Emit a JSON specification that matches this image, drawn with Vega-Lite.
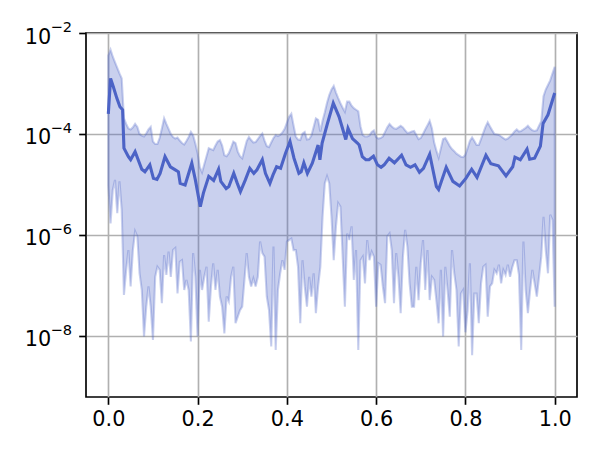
{
"$schema": "https://vega.github.io/schema/vega-lite/v6.json",
"autosize": "none",
"width": 491,
"height": 364,
"padding": {"left": 86, "top": 33, "right": 23, "bottom": 53},
"background": "white",
"config": {
  "view": {"stroke": "black", "strokeWidth": 1.67},
  "axis": {"grid": true, "gridColor": "#b0b0b0", "gridWidth": 1.67, "domain": false, "tickColor": "black", "tickSize": 7.3, "tickWidth": 1.67, "labelFont": "DejaVu Sans", "labelFontSize": 20.8, "labelColor": "black", "labelPadding": 5, "title": null}
},
"datasets": {
"band": [
{"x":0.000,"lo":9.77e-6,"hi":3.55e-3},{"x":0.005,"lo":1.70e-6,"hi":4.68e-3},{"x":0.010,"lo":7.76e-6,"hi":3.39e-3},{"x":0.015,"lo":1.23e-5,"hi":2.63e-3},{"x":0.020,"lo":2.69e-6,"hi":2.04e-3},{"x":0.025,"lo":1.15e-5,"hi":1.58e-3},{"x":0.030,"lo":3.16e-6,"hi":1.26e-3},{"x":0.035,"lo":6.46e-8,"hi":2.04e-4},{"x":0.040,"lo":2.04e-7,"hi":1.58e-4},{"x":0.045,"lo":5.01e-7,"hi":1.29e-4},
{"x":0.050,"lo":9.55e-8,"hi":1.23e-4},{"x":0.055,"lo":5.01e-7,"hi":1.35e-4},{"x":0.060,"lo":1.18e-6,"hi":1.58e-4},{"x":0.065,"lo":9.33e-7,"hi":1.38e-4},{"x":0.070,"lo":1.74e-7,"hi":1.00e-4},{"x":0.075,"lo":8.13e-8,"hi":9.33e-5},{"x":0.080,"lo":9.77e-9,"hi":8.91e-5},{"x":0.085,"lo":3.80e-8,"hi":1.02e-4},{"x":0.090,"lo":9.55e-8,"hi":1.23e-4},{"x":0.095,"lo":3.80e-8,"hi":1.38e-4},
{"x":0.100,"lo":8.32e-9,"hi":7.08e-5},{"x":0.105,"lo":1.48e-7,"hi":6.31e-5},{"x":0.110,"lo":2.34e-7,"hi":6.31e-5},{"x":0.115,"lo":2.04e-7,"hi":8.32e-5},{"x":0.120,"lo":4.47e-8,"hi":1.29e-4},{"x":0.125,"lo":3.98e-7,"hi":2.04e-4},{"x":0.130,"lo":1.62e-7,"hi":1.58e-4},{"x":0.135,"lo":4.68e-7,"hi":1.26e-4},{"x":0.140,"lo":1.48e-7,"hi":1.00e-4},{"x":0.145,"lo":5.01e-7,"hi":8.71e-5},
{"x":0.150,"lo":5.50e-7,"hi":8.13e-5},{"x":0.155,"lo":6.92e-8,"hi":8.51e-5},{"x":0.160,"lo":2.95e-7,"hi":7.41e-5},{"x":0.165,"lo":3.16e-7,"hi":6.61e-5},{"x":0.170,"lo":8.13e-8,"hi":6.17e-5},{"x":0.175,"lo":1.29e-7,"hi":7.24e-5},{"x":0.180,"lo":8.13e-8,"hi":8.71e-5},{"x":0.185,"lo":7.76e-9,"hi":1.10e-4},{"x":0.190,"lo":4.37e-7,"hi":9.33e-5},{"x":0.195,"lo":1.48e-7,"hi":6.46e-5},
{"x":0.200,"lo":9.77e-9,"hi":4.17e-5},{"x":0.205,"lo":2.04e-7,"hi":2.19e-5},{"x":0.210,"lo":8.13e-8,"hi":1.74e-5},{"x":0.215,"lo":1.48e-7,"hi":2.51e-5},{"x":0.220,"lo":2.34e-7,"hi":3.63e-5},{"x":0.225,"lo":1.91e-8,"hi":5.25e-5},{"x":0.230,"lo":9.55e-8,"hi":5.01e-5},{"x":0.235,"lo":2.75e-7,"hi":4.79e-5},{"x":0.240,"lo":8.13e-8,"hi":5.89e-5},{"x":0.245,"lo":2.04e-7,"hi":7.08e-5},
{"x":0.250,"lo":6.03e-8,"hi":7.59e-5},{"x":0.255,"lo":3.80e-8,"hi":5.89e-5},{"x":0.260,"lo":1.12e-8,"hi":3.80e-5},{"x":0.265,"lo":6.03e-8,"hi":3.63e-5},{"x":0.270,"lo":4.79e-8,"hi":4.17e-5},{"x":0.275,"lo":1.48e-7,"hi":5.37e-5},{"x":0.280,"lo":2.34e-7,"hi":7.08e-5},{"x":0.285,"lo":1.78e-8,"hi":6.61e-5},{"x":0.290,"lo":2.40e-8,"hi":4.47e-5},{"x":0.295,"lo":3.24e-8,"hi":3.63e-5},
{"x":0.300,"lo":3.80e-8,"hi":3.31e-5},{"x":0.305,"lo":1.29e-7,"hi":4.90e-5},{"x":0.310,"lo":4.37e-7,"hi":7.24e-5},{"x":0.315,"lo":1.48e-7,"hi":8.71e-5},{"x":0.320,"lo":9.55e-8,"hi":7.59e-5},{"x":0.325,"lo":1.38e-7,"hi":6.76e-5},{"x":0.330,"lo":9.55e-8,"hi":6.92e-5},{"x":0.335,"lo":1.48e-7,"hi":7.94e-5},{"x":0.340,"lo":7.41e-7,"hi":9.12e-5},{"x":0.345,"lo":4.37e-7,"hi":1.02e-4},
{"x":0.350,"lo":3.72e-7,"hi":7.41e-5},{"x":0.355,"lo":6.03e-8,"hi":5.75e-5},{"x":0.360,"lo":3.24e-8,"hi":5.50e-5},{"x":0.365,"lo":6.17e-9,"hi":6.76e-5},{"x":0.370,"lo":5.89e-7,"hi":8.32e-5},{"x":0.375,"lo":5.25e-9,"hi":9.55e-5},{"x":0.380,"lo":8.13e-8,"hi":9.12e-5},{"x":0.385,"lo":1.74e-7,"hi":9.55e-5},{"x":0.390,"lo":3.16e-7,"hi":1.07e-4},{"x":0.395,"lo":2.04e-7,"hi":1.26e-4},
{"x":0.400,"lo":7.41e-7,"hi":1.66e-4},{"x":0.405,"lo":7.94e-7,"hi":2.19e-4},{"x":0.410,"lo":8.51e-7,"hi":2.51e-4},{"x":0.415,"lo":5.01e-7,"hi":1.48e-4},{"x":0.420,"lo":5.01e-7,"hi":8.91e-5},{"x":0.425,"lo":2.34e-7,"hi":7.76e-5},{"x":0.430,"lo":1.78e-8,"hi":7.59e-5},{"x":0.435,"lo":3.16e-7,"hi":1.02e-4},{"x":0.440,"lo":9.55e-8,"hi":1.10e-4},{"x":0.445,"lo":3.80e-8,"hi":7.76e-5},
{"x":0.450,"lo":1.48e-7,"hi":7.94e-5},{"x":0.455,"lo":6.03e-8,"hi":9.33e-5},{"x":0.460,"lo":1.74e-7,"hi":1.38e-4},{"x":0.465,"lo":2.82e-8,"hi":2.04e-4},{"x":0.470,"lo":9.55e-8,"hi":1.91e-4},{"x":0.475,"lo":2.34e-7,"hi":1.12e-4},{"x":0.480,"lo":2.29e-6,"hi":1.82e-4},{"x":0.485,"lo":1.05e-5,"hi":2.69e-4},{"x":0.490,"lo":1.45e-5,"hi":4.17e-4},{"x":0.495,"lo":1.05e-5,"hi":5.89e-4},
{"x":0.500,"lo":2.29e-6,"hi":7.59e-4},{"x":0.505,"lo":3.16e-7,"hi":8.91e-4},{"x":0.510,"lo":1.48e-6,"hi":6.61e-4},{"x":0.515,"lo":4.27e-6,"hi":5.13e-4},{"x":0.520,"lo":3.63e-6,"hi":4.07e-4},{"x":0.525,"lo":3.72e-7,"hi":3.31e-4},{"x":0.530,"lo":3.80e-8,"hi":2.75e-4},{"x":0.535,"lo":1.07e-6,"hi":4.37e-4},{"x":0.540,"lo":7.94e-7,"hi":4.37e-4},{"x":0.545,"lo":1.48e-6,"hi":3.63e-4},
{"x":0.550,"lo":1.29e-7,"hi":3.24e-4},{"x":0.555,"lo":5.01e-7,"hi":3.02e-4},{"x":0.560,"lo":5.25e-9,"hi":2.82e-4},{"x":0.565,"lo":3.16e-7,"hi":1.41e-4},{"x":0.570,"lo":3.72e-7,"hi":9.55e-5},{"x":0.575,"lo":1.10e-7,"hi":8.91e-5},{"x":0.580,"lo":7.94e-7,"hi":8.91e-5},{"x":0.585,"lo":3.16e-7,"hi":9.33e-5},{"x":0.590,"lo":4.68e-7,"hi":1.10e-4},{"x":0.595,"lo":3.72e-7,"hi":1.18e-4},
{"x":0.600,"lo":3.80e-8,"hi":8.71e-5},{"x":0.605,"lo":2.75e-7,"hi":8.13e-5},{"x":0.610,"lo":2.57e-7,"hi":8.32e-5},{"x":0.615,"lo":9.55e-8,"hi":8.91e-5},{"x":0.620,"lo":4.47e-8,"hi":1.10e-4},{"x":0.625,"lo":9.33e-7,"hi":1.35e-4},{"x":0.630,"lo":1.07e-6,"hi":1.58e-4},{"x":0.635,"lo":5.01e-7,"hi":1.41e-4},{"x":0.640,"lo":4.47e-8,"hi":1.29e-4},{"x":0.645,"lo":4.37e-7,"hi":1.26e-4},
{"x":0.650,"lo":1.48e-7,"hi":1.35e-4},{"x":0.655,"lo":2.82e-8,"hi":1.45e-4},{"x":0.660,"lo":3.72e-7,"hi":1.35e-4},{"x":0.665,"lo":1.26e-6,"hi":1.18e-4},{"x":0.670,"lo":5.89e-7,"hi":1.05e-4},{"x":0.675,"lo":1.10e-7,"hi":1.07e-4},{"x":0.680,"lo":3.80e-8,"hi":1.12e-4},{"x":0.685,"lo":3.80e-8,"hi":1.15e-4},{"x":0.690,"lo":2.34e-7,"hi":9.55e-5},{"x":0.695,"lo":5.13e-8,"hi":7.94e-5},
{"x":0.700,"lo":2.75e-7,"hi":8.32e-5},{"x":0.705,"lo":7.94e-7,"hi":1.00e-4},{"x":0.710,"lo":8.13e-8,"hi":1.23e-4},{"x":0.715,"lo":5.01e-7,"hi":1.48e-4},{"x":0.720,"lo":5.13e-8,"hi":1.82e-4},{"x":0.725,"lo":1.48e-7,"hi":1.29e-4},{"x":0.730,"lo":1.29e-7,"hi":6.76e-5},{"x":0.735,"lo":5.13e-8,"hi":4.68e-5},{"x":0.740,"lo":1.78e-8,"hi":3.39e-5},{"x":0.745,"lo":2.04e-7,"hi":5.13e-5},
{"x":0.750,"lo":9.77e-9,"hi":7.94e-5},{"x":0.755,"lo":2.34e-7,"hi":8.32e-5},{"x":0.760,"lo":8.13e-8,"hi":6.92e-5},{"x":0.765,"lo":2.40e-8,"hi":5.75e-5},{"x":0.770,"lo":5.01e-7,"hi":5.01e-5},{"x":0.775,"lo":1.74e-7,"hi":4.57e-5},{"x":0.780,"lo":8.13e-8,"hi":4.07e-5},{"x":0.785,"lo":6.17e-9,"hi":3.80e-5},{"x":0.790,"lo":6.92e-8,"hi":3.55e-5},{"x":0.795,"lo":8.13e-8,"hi":3.47e-5},
{"x":0.800,"lo":1.18e-8,"hi":3.89e-5},{"x":0.805,"lo":3.24e-8,"hi":5.25e-5},{"x":0.810,"lo":2.75e-7,"hi":7.24e-5},{"x":0.815,"lo":4.17e-9,"hi":8.51e-5},{"x":0.820,"lo":6.92e-8,"hi":7.24e-5},{"x":0.825,"lo":6.92e-8,"hi":6.03e-5},{"x":0.830,"lo":1.78e-8,"hi":6.03e-5},{"x":0.835,"lo":1.10e-7,"hi":7.94e-5},{"x":0.840,"lo":2.34e-7,"hi":1.05e-4},{"x":0.845,"lo":2.57e-7,"hi":1.38e-4},
{"x":0.850,"lo":2.40e-8,"hi":1.70e-4},{"x":0.855,"lo":9.55e-8,"hi":1.41e-4},{"x":0.860,"lo":1.10e-7,"hi":1.18e-4},{"x":0.865,"lo":2.04e-7,"hi":1.00e-4},{"x":0.870,"lo":1.74e-7,"hi":9.77e-5},{"x":0.875,"lo":2.57e-7,"hi":9.55e-5},{"x":0.880,"lo":1.10e-7,"hi":8.91e-5},{"x":0.885,"lo":2.04e-7,"hi":8.32e-5},{"x":0.890,"lo":1.62e-7,"hi":7.76e-5},{"x":0.895,"lo":2.57e-7,"hi":8.13e-5},
{"x":0.900,"lo":1.48e-7,"hi":8.91e-5},{"x":0.905,"lo":2.29e-7,"hi":9.77e-5},{"x":0.910,"lo":3.16e-7,"hi":1.12e-4},{"x":0.915,"lo":3.16e-7,"hi":1.23e-4},{"x":0.920,"lo":1.62e-7,"hi":1.12e-4},{"x":0.925,"lo":5.25e-9,"hi":1.15e-4},{"x":0.930,"lo":7.41e-7,"hi":1.23e-4},{"x":0.935,"lo":8.13e-8,"hi":1.32e-4},{"x":0.940,"lo":2.82e-8,"hi":1.45e-4},{"x":0.945,"lo":8.13e-8,"hi":1.29e-4},
{"x":0.950,"lo":2.04e-7,"hi":1.18e-4},{"x":0.955,"lo":1.10e-7,"hi":1.15e-4},{"x":0.960,"lo":6.03e-8,"hi":1.18e-4},{"x":0.965,"lo":1.48e-7,"hi":1.45e-4},{"x":0.970,"lo":3.72e-7,"hi":1.78e-4},{"x":0.975,"lo":2.29e-6,"hi":5.62e-4},{"x":0.980,"lo":5.01e-7,"hi":7.59e-4},{"x":0.985,"lo":1.74e-7,"hi":9.33e-4},{"x":0.990,"lo":2.51e-6,"hi":1.15e-3},{"x":0.995,"lo":2.00e-6,"hi":1.58e-3},
{"x":1.000,"lo":3.80e-8,"hi":2.14e-3}
],
"median": [
{"x":0.000,"m":2.51e-4},{"x":0.005,"m":1.26e-3},{"x":0.011,"m":8.71e-4},{"x":0.019,"m":5.13e-4},{"x":0.026,"m":3.47e-4},{"x":0.032,"m":3.02e-4},{"x":0.035,"m":5.25e-5},{"x":0.045,"m":3.55e-5},{"x":0.050,"m":3.09e-5},{"x":0.060,"m":4.47e-5},
{"x":0.075,"m":2.00e-5},{"x":0.082,"m":1.78e-5},{"x":0.093,"m":2.45e-5},{"x":0.101,"m":1.32e-5},{"x":0.109,"m":1.26e-5},{"x":0.116,"m":1.66e-5},{"x":0.127,"m":3.55e-5},{"x":0.139,"m":2.24e-5},{"x":0.150,"m":1.95e-5},{"x":0.157,"m":1.78e-5},
{"x":0.161,"m":1.05e-5},{"x":0.172,"m":9.77e-6},{"x":0.187,"m":2.63e-5},{"x":0.195,"m":1.23e-5},{"x":0.206,"m":3.63e-6},{"x":0.213,"m":6.76e-6},{"x":0.225,"m":1.45e-5},{"x":0.236,"m":1.20e-5},{"x":0.247,"m":2.00e-5},{"x":0.252,"m":1.15e-5},
{"x":0.264,"m":8.32e-6},{"x":0.270,"m":9.12e-6},{"x":0.281,"m":1.66e-5},{"x":0.289,"m":1.05e-5},{"x":0.296,"m":7.24e-6},{"x":0.307,"m":1.23e-5},{"x":0.317,"m":2.09e-5},{"x":0.326,"m":1.66e-5},{"x":0.333,"m":1.95e-5},{"x":0.345,"m":3.09e-5},
{"x":0.352,"m":1.66e-5},{"x":0.362,"m":1.05e-5},{"x":0.369,"m":1.55e-5},{"x":0.377,"m":2.24e-5},{"x":0.386,"m":2.09e-5},{"x":0.397,"m":4.17e-5},{"x":0.407,"m":7.08e-5},{"x":0.416,"m":3.31e-5},{"x":0.427,"m":1.66e-5},{"x":0.432,"m":1.78e-5},
{"x":0.438,"m":2.69e-5},{"x":0.446,"m":1.66e-5},{"x":0.457,"m":2.63e-5},{"x":0.470,"m":6.03e-5},{"x":0.474,"m":3.09e-5},{"x":0.479,"m":6.61e-5},{"x":0.491,"m":1.62e-4},{"x":0.504,"m":4.07e-4},{"x":0.517,"m":2.19e-4},{"x":0.532,"m":7.76e-5},
{"x":0.537,"m":1.29e-4},{"x":0.547,"m":8.13e-5},{"x":0.558,"m":6.61e-5},{"x":0.562,"m":6.03e-5},{"x":0.569,"m":3.55e-5},{"x":0.577,"m":3.09e-5},{"x":0.584,"m":3.09e-5},{"x":0.594,"m":3.63e-5},{"x":0.603,"m":2.45e-5},{"x":0.611,"m":2.19e-5},
{"x":0.618,"m":2.45e-5},{"x":0.629,"m":3.31e-5},{"x":0.641,"m":2.69e-5},{"x":0.657,"m":3.80e-5},{"x":0.667,"m":2.45e-5},{"x":0.677,"m":2.19e-5},{"x":0.687,"m":2.45e-5},{"x":0.697,"m":1.74e-5},{"x":0.706,"m":2.09e-5},{"x":0.720,"m":3.98e-5},
{"x":0.735,"m":9.12e-6},{"x":0.740,"m":7.94e-6},{"x":0.757,"m":2.19e-5},{"x":0.772,"m":1.15e-5},{"x":0.787,"m":9.33e-6},{"x":0.801,"m":1.32e-5},{"x":0.814,"m":2.00e-5},{"x":0.826,"m":1.38e-5},{"x":0.846,"m":3.80e-5},{"x":0.857,"m":2.57e-5},
{"x":0.874,"m":2.34e-5},{"x":0.891,"m":1.48e-5},{"x":0.906,"m":2.24e-5},{"x":0.911,"m":3.47e-5},{"x":0.923,"m":3.09e-5},{"x":0.938,"m":5.01e-5},{"x":0.944,"m":3.16e-5},{"x":0.955,"m":3.31e-5},{"x":0.968,"m":5.75e-5},{"x":0.974,"m":1.62e-4},
{"x":0.985,"m":2.40e-4},{"x":1.000,"m":6.46e-4}
],
"ylabels": [
{"v":1e-2,"s":"−2"},{"v":1e-4,"s":"−4"},{"v":1e-6,"s":"−6"},{"v":1e-8,"s":"−8"}
]
},
"layer": [
{
  "data": {"name": "band"},
  "mark": {"type": "area", "fill": "#4c63c6", "fillOpacity": 0.3, "stroke": "#4c63c6", "strokeOpacity": 0.3, "strokeWidth": 2.1},
  "encoding": {
    "x": {"field": "x", "type": "quantitative", "scale": {"domain": [-0.05, 1.05], "nice": false, "zero": false}, "axis": {"values": [0, 0.2, 0.4, 0.6, 0.8, 1.0], "format": ".1f", "labelPadding": 5}},
    "y": {"field": "hi", "type": "quantitative", "scale": {"type": "log", "domain": [6.17e-10, 0.01], "nice": false}, "axis": {"values": [1e-8, 1e-6, 1e-4, 1e-2], "labelExpr": "'10'", "labelPadding": 28, "labelBaseline": "middle", "labelOffset": 4}},
    "y2": {"field": "lo"}
  }
},
{
  "data": {"name": "median"},
  "mark": {"type": "line", "color": "#4c63c6", "strokeWidth": 3.1},
  "encoding": {
    "x": {"field": "x", "type": "quantitative"},
    "y": {"field": "m", "type": "quantitative"}
  }
},
{
  "data": {"name": "ylabels"},
  "mark": {"type": "text", "align": "right", "baseline": "middle", "dx": -14, "dy": -5, "font": "DejaVu Sans", "fontSize": 14.6, "color": "black"},
  "encoding": {
    "x": {"datum": -0.05},
    "y": {"field": "v", "type": "quantitative"},
    "text": {"field": "s"}
  }
}
]
}
